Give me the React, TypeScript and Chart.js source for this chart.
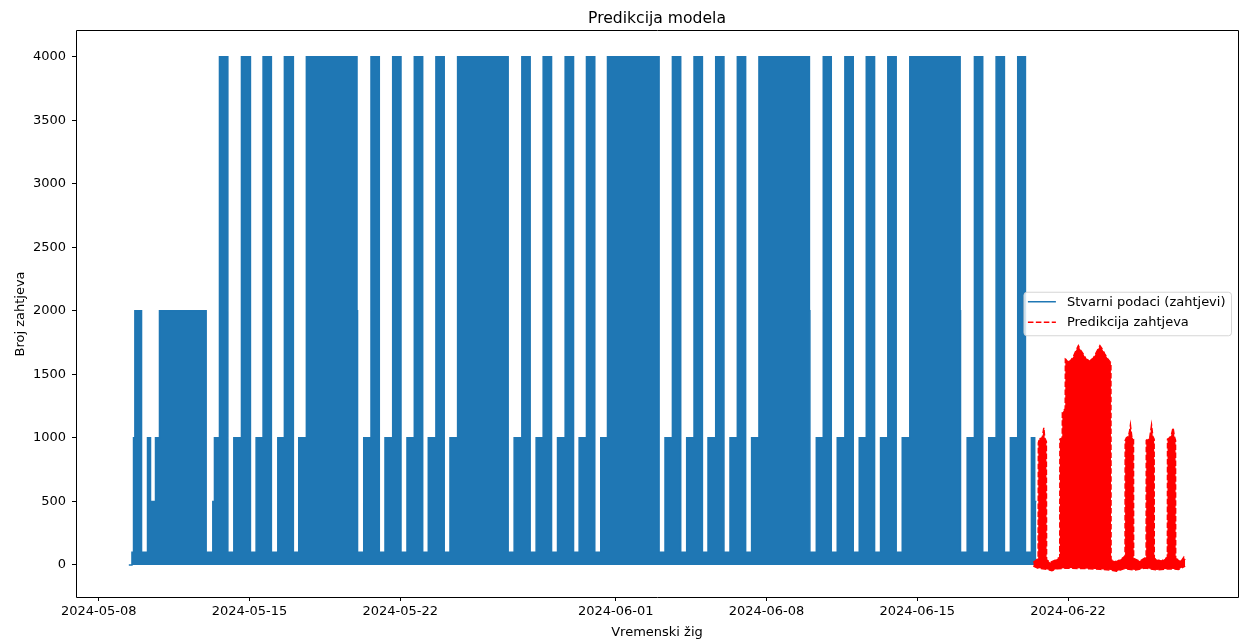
import React, { useEffect, useRef } from "react";
import { Chart, registerables } from "chart.js";

Chart.register(...registerables);

const chartTitle = "Predikcija modela";
const xAxisTitle = "Vremenski žig";
const yAxisTitle = "Broj zahtjeva";
const seriesNames = ["Stvarni podaci (zahtjevi)", "Predikcija zahtjeva"];

const xTickLabels = ["2024-05-08", "2024-05-15", "2024-05-22", "2024-06-01", "2024-06-08", "2024-06-15", "2024-06-22"];
const yTickValues = [0, 500, 1000, 1500, 2000, 2500, 3000, 3500, 4000];

const actualSteps: [string, number][] = [
  ["2024-05-09T09:30", 0], ["2024-05-09T13:00", 100], ["2024-05-09T14:45", 1000], ["2024-05-09T16:15", 2000], ["2024-05-09T23:40", 100],
  ["2024-05-10T06:20", 1000], ["2024-05-10T09:40", 500], ["2024-05-10T15:15", 1000], ["2024-05-10T19:40", 2000], ["2024-05-12T23:40", 100],
  ["2024-05-13T07:05", 500], ["2024-05-13T08:55", 1000], ["2024-05-13T14:30", 4000], ["2024-05-13T23:50", 100],
  ["2024-05-14T06:30", 1000], ["2024-05-14T15:00", 4000], ["2024-05-15T01:00", 100],
  ["2024-05-15T07:20", 1000], ["2024-05-15T15:05", 4000], ["2024-05-16T00:20", 100],
  ["2024-05-16T07:30", 1000], ["2024-05-16T14:50", 4000], ["2024-05-17T00:50", 100],
  ["2024-05-17T06:50", 1000], ["2024-05-17T15:20", 4000], ["2024-05-19T23:45", 2000], ["2024-05-20T00:20", 100],
  ["2024-05-20T07:15", 1000], ["2024-05-20T15:20", 4000], ["2024-05-21T00:35", 100],
  ["2024-05-21T06:55", 1000], ["2024-05-21T15:30", 4000], ["2024-05-22T00:45", 100],
  ["2024-05-22T07:25", 1000], ["2024-05-22T15:35", 4000], ["2024-05-23T00:55", 100],
  ["2024-05-23T07:10", 1000], ["2024-05-23T15:40", 4000], ["2024-05-24T00:55", 100],
  ["2024-05-24T07:20", 1000], ["2024-05-24T15:50", 4000], ["2024-05-27T00:10", 100],
  ["2024-05-27T06:50", 1000], ["2024-05-27T15:25", 4000], ["2024-05-28T00:40", 100],
  ["2024-05-28T07:20", 1000], ["2024-05-28T15:10", 4000], ["2024-05-29T00:30", 100],
  ["2024-05-29T07:10", 1000], ["2024-05-29T15:40", 4000], ["2024-05-30T01:00", 100],
  ["2024-05-30T07:15", 1000], ["2024-05-30T15:25", 4000], ["2024-05-31T00:40", 100],
  ["2024-05-31T07:20", 1000], ["2024-05-31T14:50", 4000], ["2024-06-03T00:20", 100],
  ["2024-06-03T06:55", 1000], ["2024-06-03T15:10", 4000], ["2024-06-04T00:25", 100],
  ["2024-06-04T07:05", 1000], ["2024-06-04T15:15", 4000], ["2024-06-05T00:35", 100],
  ["2024-06-05T06:50", 1000], ["2024-06-05T15:25", 4000], ["2024-06-06T00:35", 100],
  ["2024-06-06T07:20", 1000], ["2024-06-06T15:30", 4000], ["2024-06-07T00:45", 100],
  ["2024-06-07T07:25", 1000], ["2024-06-07T15:35", 4000], ["2024-06-09T23:50", 2000], ["2024-06-10T00:20", 100],
  ["2024-06-10T07:30", 1000], ["2024-06-10T15:15", 4000], ["2024-06-11T00:10", 100],
  ["2024-06-11T06:50", 1000], ["2024-06-11T15:20", 4000], ["2024-06-12T00:40", 100],
  ["2024-06-12T07:20", 1000], ["2024-06-12T15:10", 4000], ["2024-06-13T00:25", 100],
  ["2024-06-13T07:05", 1000], ["2024-06-13T15:10", 4000], ["2024-06-14T00:30", 100],
  ["2024-06-14T07:15", 1000], ["2024-06-14T15:40", 4000], ["2024-06-16T23:45", 2000], ["2024-06-17T00:10", 100],
  ["2024-06-17T07:35", 1000], ["2024-06-17T15:40", 4000], ["2024-06-18T00:55", 100],
  ["2024-06-18T07:35", 1000], ["2024-06-18T15:50", 4000], ["2024-06-19T01:05", 100],
  ["2024-06-19T07:45", 1000], ["2024-06-19T15:55", 4000], ["2024-06-20T00:30", 100],
  ["2024-06-20T07:10", 1000], ["2024-06-20T10:50", 500], ["2024-06-20T12:40", 500],
];

// Prediction: upper envelope of the dense dashed red line, [time, value]
const predUpper: [string, number][] = [
  ["2024-06-20T09:20", 20], ["2024-06-20T12:00", 35], ["2024-06-20T14:40", 50], ["2024-06-20T14:55", 960], ["2024-06-20T16:30", 1000],
  ["2024-06-20T18:00", 990], ["2024-06-20T19:30", 1010], ["2024-06-20T21:00", 1080], ["2024-06-20T22:00", 1000], ["2024-06-20T23:50", 970],
  ["2024-06-21T00:05", 40], ["2024-06-21T04:00", 20], ["2024-06-21T09:00", 35], ["2024-06-21T14:45", 60], ["2024-06-21T14:55", 990],
  ["2024-06-21T17:30", 1000], ["2024-06-21T17:40", 1200], ["2024-06-21T20:50", 1230], ["2024-06-21T21:00", 1620], ["2024-06-22T02:00", 1600],
  ["2024-06-22T06:00", 1640], ["2024-06-22T09:00", 1690], ["2024-06-22T11:30", 1725], ["2024-06-22T14:00", 1690], ["2024-06-22T17:00", 1660],
  ["2024-06-22T20:00", 1620], ["2024-06-23T00:00", 1610], ["2024-06-23T04:00", 1625], ["2024-06-23T08:00", 1680], ["2024-06-23T11:30", 1725],
  ["2024-06-23T14:00", 1700], ["2024-06-23T17:00", 1660], ["2024-06-23T20:30", 1620], ["2024-06-23T23:45", 1590], ["2024-06-23T23:55", 40],
  ["2024-06-24T06:00", 25], ["2024-06-24T12:00", 50], ["2024-06-24T15:30", 70], ["2024-06-24T15:40", 980], ["2024-06-24T17:00", 1000],
  ["2024-06-24T19:00", 1010], ["2024-06-24T20:30", 1050], ["2024-06-24T21:30", 1100], ["2024-06-24T23:00", 1010], ["2024-06-25T00:55", 990],
  ["2024-06-25T01:05", 50], ["2024-06-25T08:00", 30], ["2024-06-25T15:00", 60], ["2024-06-25T15:10", 980], ["2024-06-25T17:00", 990],
  ["2024-06-25T19:00", 1000], ["2024-06-25T21:00", 1100], ["2024-06-25T22:30", 1010], ["2024-06-25T23:55", 990], ["2024-06-26T00:05", 50],
  ["2024-06-26T08:00", 30], ["2024-06-26T14:40", 60], ["2024-06-26T14:50", 990], ["2024-06-26T17:00", 1000], ["2024-06-26T19:00", 1020],
  ["2024-06-26T21:00", 1080], ["2024-06-26T22:30", 1010], ["2024-06-26T23:45", 980], ["2024-06-26T23:55", 50], ["2024-06-27T06:00", 30],
  ["2024-06-27T09:00", 60], ["2024-06-27T10:30", 40],
];

// Prediction: lower envelope of the same line, [time, value]
const predLower: [string, number][] = [
  ["2024-06-20T09:20", -10], ["2024-06-20T14:00", -25], ["2024-06-21T00:00", -35], ["2024-06-21T06:00", -45], ["2024-06-21T12:00", -30],
  ["2024-06-22T00:00", -25], ["2024-06-23T00:00", -30], ["2024-06-23T12:00", -35], ["2024-06-24T00:00", -40], ["2024-06-24T06:00", -50],
  ["2024-06-24T14:00", -30], ["2024-06-25T03:00", -40], ["2024-06-25T14:00", -25], ["2024-06-26T03:00", -40], ["2024-06-26T16:00", -30],
  ["2024-06-27T03:00", -35], ["2024-06-27T10:30", -10],
];

const FONT = "'DejaVu Sans', 'Liberation Sans', sans-serif";
const BLUE = "#1f77b4";
const RED = "#ff0000";
const DASH = [5.55, 2.4];

const ts = (s: string) => Date.parse(s + ":00Z");

function pad5(lo: number, hi: number) {
  const r = hi - lo;
  return [lo - 0.05 * r, hi + 0.05 * r];
}

const overlayPlugin = {
  id: "mplOverlay",
  afterDraw(chart: any) {
    const { ctx, chartArea: a } = chart;
    ctx.save();
    // frame (all four spines)
    ctx.strokeStyle = "#000";
    ctx.lineWidth = 1;
    ctx.beginPath();
    ctx.rect(Math.round(a.left) + 0.5, Math.round(a.top) - 0.5, Math.round(a.right - a.left), Math.round(a.bottom - a.top) + 1);
    ctx.stroke();

    // title
    ctx.fillStyle = "#000";
    ctx.font = `15.6px ${FONT}`;
    ctx.textAlign = "center";
    ctx.textBaseline = "alphabetic";
    ctx.fillText(chartTitle, (a.left + a.right) / 2, a.top - 8);

    // legend
    const fs = 13;
    ctx.font = `${fs}px ${FONT}`;
    const textW = Math.max(...seriesNames.map((n) => ctx.measureText(n).width));
    const boxW = 43 + textW + 6;
    const boxH = 43.5;
    const x0 = a.right - 0.5 * fs - boxW;
    const cy = (a.top + a.bottom) / 2;
    const y0 = cy - boxH / 2;
    ctx.beginPath();
    ctx.roundRect(x0, y0, boxW, boxH, 3);
    ctx.fillStyle = "rgba(255,255,255,0.8)";
    ctx.fill();
    ctx.strokeStyle = "rgba(204,204,204,0.8)";
    ctx.lineWidth = 1;
    ctx.stroke();
    const rows = [y0 + 9.5, y0 + 30.1];
    const colors = [BLUE, RED];
    const dashes = [[], DASH];
    rows.forEach((ry, i) => {
      ctx.beginPath();
      ctx.setLineDash(dashes[i]);
      ctx.strokeStyle = colors[i];
      ctx.lineWidth = 1.5;
      ctx.moveTo(x0 + 4, ry);
      ctx.lineTo(x0 + 32, ry);
      ctx.stroke();
      ctx.setLineDash([]);
      ctx.fillStyle = "#000";
      ctx.textAlign = "left";
      ctx.textBaseline = "middle";
      ctx.fillText(seriesNames[i], x0 + 43, ry + 0.5);
    });
    ctx.restore();
  },
};

export default function App() {
  const ref = useRef<HTMLCanvasElement | null>(null);

  useEffect(() => {
    document.body.style.margin = "0";
    const canvas = ref.current;
    if (!canvas) return;

    const toPoints = (arr: [string, number][]) => arr.map(([t, v]) => ({ x: ts(t), y: v }));
    const actualData = toPoints(actualSteps);
    const upperData = toPoints(predUpper);
    const lowerData = toPoints(predLower);

    const all = [...actualData, ...upperData, ...lowerData];
    const [xMin, xMax] = pad5(Math.min(...all.map((p) => p.x)), Math.max(...all.map((p) => p.x)));
    const [yMin, yMax] = pad5(Math.min(...all.map((p) => p.y)), Math.max(...all.map((p) => p.y)));
    const xTicks = xTickLabels.map((d) => Date.parse(d + "T00:00:00Z"));

    const tickFont = { family: FONT, size: 13 };

    const chart = new Chart(canvas, {
      type: "line",
      data: {
        datasets: [
          {
            label: seriesNames[0],
            data: actualData,
            borderColor: BLUE,
            backgroundColor: BLUE,
            borderWidth: 1.5,
            stepped: "before",
            fill: "origin",
            pointRadius: 0,
            order: 3,
          },
          {
            label: seriesNames[1],
            data: upperData,
            borderColor: RED,
            backgroundColor: RED,
            borderWidth: 1.5,
            borderDash: DASH,
            fill: "+1",
            pointRadius: 0,
            order: 1,
          },
          {
            label: "lower",
            data: lowerData,
            borderColor: RED,
            backgroundColor: RED,
            borderWidth: 1.5,
            borderDash: DASH,
            fill: false,
            pointRadius: 0,
            order: 2,
          },
        ],
      },
      options: {
        responsive: false,
        animation: false,
        events: [],
        layout: { padding: { top: 31, right: 8, bottom: 0, left: 0 } },
        plugins: {
          legend: { display: false },
          title: { display: false },
          tooltip: { enabled: false },
        },
        scales: {
          x: {
            type: "linear",
            min: xMin,
            max: xMax,
            border: { display: false },
            grid: { drawOnChartArea: false, drawTicks: true, tickLength: 4, color: "#000", lineWidth: 1 },
            ticks: {
              font: tickFont,
              color: "#000",
              padding: 3,
              maxRotation: 0,
              autoSkip: false,
              callback: (v: any) => new Date(Number(v)).toISOString().slice(0, 10),
            },
            afterBuildTicks: (scale: any) => {
              scale.ticks = xTicks.map((v) => ({ value: v }));
            },
            afterFit: (scale: any) => {
              scale.height = 46;
            },
            title: { display: true, text: xAxisTitle, font: tickFont, color: "#000", padding: { top: 0, bottom: 3 } },
          },
          y: {
            type: "linear",
            min: yMin,
            max: yMax,
            border: { display: false },
            grid: { drawOnChartArea: false, drawTicks: true, tickLength: 4, color: "#000", lineWidth: 1 },
            ticks: {
              font: tickFont,
              color: "#000",
              padding: 6,
              autoSkip: false,
              callback: (v: any) => String(v),
            },
            afterBuildTicks: (scale: any) => {
              scale.ticks = yTickValues.map((v) => ({ value: v }));
            },
            afterFit: (scale: any) => {
              scale.width = 76;
            },
            title: { display: true, text: yAxisTitle, font: tickFont, color: "#000", padding: { top: 13, bottom: 0 } },
          },
        },
      },
      plugins: [overlayPlugin],
    } as any);

    return () => chart.destroy();
  }, []);

  return (
    <div style={{ position: "absolute", left: 0, top: 0, width: 1246, height: 643, background: "#fff" }}>
      <canvas ref={ref} width={1246} height={643} style={{ display: "block" }} />
    </div>
  );
}
